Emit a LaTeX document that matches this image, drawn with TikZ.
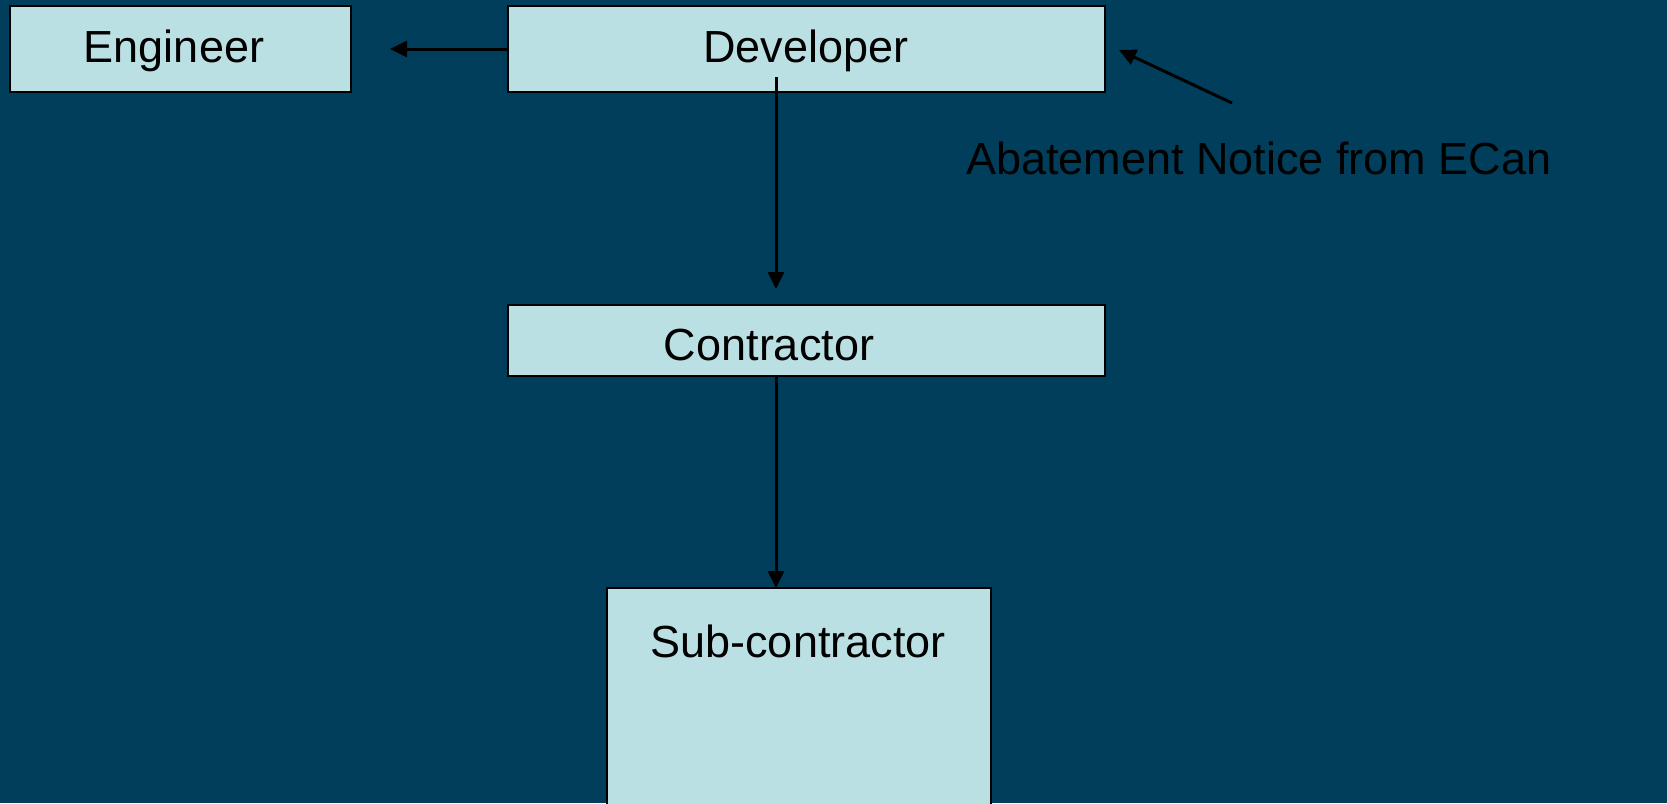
\documentclass[tikz,border=0pt]{standalone}
\usepackage{fontspec}
\setmainfont{Liberation Sans}
\usetikzlibrary{arrows.meta}
\definecolor{bgc}{RGB}{0,62,92}
\definecolor{boxc}{RGB}{187,224,227}
\tikzset{
  box/.style={draw=black, line width=2pt, fill=boxc, anchor=north west, inner sep=0pt},
  lbl/.style={anchor=base, font=\fontsize{45}{54}\selectfont, text=black, inner sep=0pt},
  arr/.style={draw=black, line width=3pt, -{Triangle[length=17pt,width=16pt]}}
}
\begin{document}
\begin{tikzpicture}[x=1pt,y=-1pt]
\useasboundingbox (0,0) rectangle (1667,803);
\clip (0,0) rectangle (1667,803);
\fill[bgc] (0,0) rectangle (1667,803);
\node[box, minimum width=341pt, minimum height=86pt] (eng) at (9,5) {};
\node[box, minimum width=597pt, minimum height=86pt] (dev) at (507,5) {};
\node[box, minimum width=597pt, minimum height=71pt] (con) at (507,304) {};
\node[box, minimum width=384pt, minimum height=260pt] (sub) at (606,587) {};
\node[lbl] (tEng) at (174,62) {Engineer};
\node[lbl] (tDev) at (806,62) {Developer};
\node[lbl] (tCon) at (769,360) {Contractor};
\node[lbl] (tSub) at (798,657) {Sub-contractor};
\node[lbl, anchor=base west] (tAbat) at (966,174) {Abatement Notice from ECan};
\coordinate (d1) at (776,77);
\coordinate (c1) at (776,289);
\coordinate (c2) at (776,375);
\coordinate (s1) at (776,588);
\coordinate (a1) at (1232,103);
\coordinate (a2) at (1119,50);
\draw[arr, shorten >=38pt] (dev.west) -- (eng.east);
\draw[arr] (d1) -- (c1);
\draw[arr] (c2) -- (s1);
\draw[arr] (a1) -- (a2);
\end{tikzpicture}
\end{document}
